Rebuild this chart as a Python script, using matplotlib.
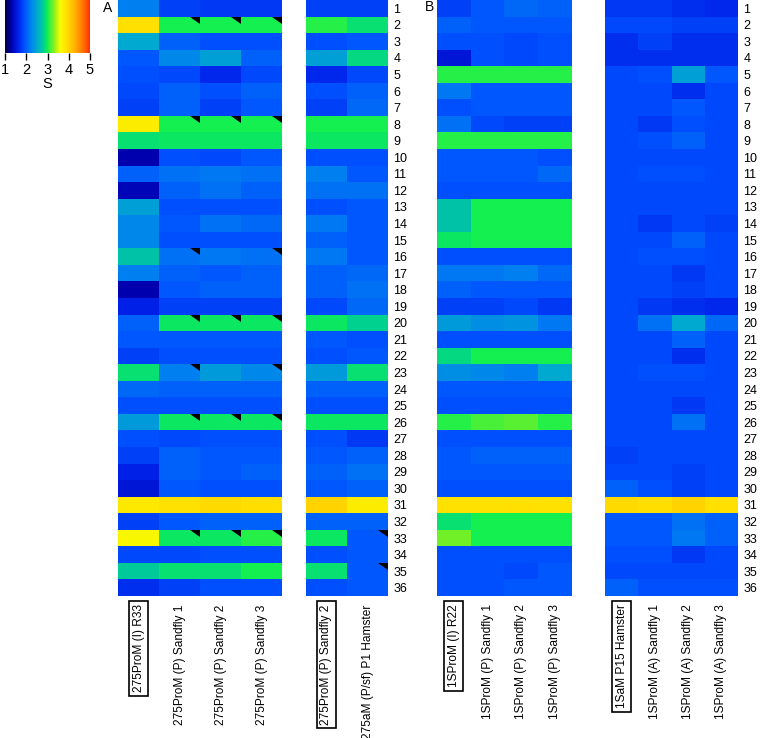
import numpy as np
import matplotlib
matplotlib.use("Agg")
import matplotlib.pyplot as plt
from matplotlib.colors import LinearSegmentedColormap
from matplotlib.patches import Polygon
from matplotlib.cm import ScalarMappable
from matplotlib.colors import Normalize

plt.rcParams['font.family'] = ['Liberation Sans', 'DejaVu Sans']

rows = [str(i) for i in range(1, 37)]

# Panel A, left block
a_labels_1 = ["275ProM (I) R33", "275ProM (P) Sandfly 1",
              "275ProM (P) Sandfly 2", "275ProM (P) Sandfly 3"]
a_r33 = [2.2, 3.9, 2.5, 1.95, 1.9, 1.85, 1.8, 3.75, 2.9, 1.3, 2.0, 1.35,
         2.45, 2.25, 2.25, 2.7, 2.2, 1.3, 1.6, 2.0, 1.95, 1.8, 2.9, 2.05,
         1.9, 2.4, 1.9, 1.8, 1.6, 1.5, 3.8, 1.8, 3.65, 1.85, 2.75, 1.7]
a_sf1 = [1.8, 3.0, 2.0, 2.25, 1.85, 2.0, 2.0, 3.0, 2.95, 1.9, 2.1, 2.0,
         1.9, 1.95, 1.9, 2.1, 2.0, 1.95, 1.8, 2.95, 1.95, 1.9, 2.2, 2.0,
         1.9, 2.95, 1.85, 2.0, 2.0, 1.95, 3.88, 1.95, 2.95, 1.85, 2.9, 1.8]
a_sf2 = [1.75, 3.0, 1.9, 2.45, 1.65, 1.9, 1.8, 3.0, 2.95, 1.85, 2.15, 2.1,
         1.9, 2.1, 1.9, 2.15, 1.95, 2.0, 1.8, 2.95, 1.95, 1.9, 2.4, 2.0,
         1.9, 2.95, 1.9, 1.95, 1.95, 1.9, 3.95, 2.0, 2.95, 1.9, 2.9, 1.9]
a_sf3 = [1.75, 3.0, 1.9, 2.0, 1.85, 2.0, 1.95, 3.0, 2.95, 1.95, 2.1, 2.0,
         1.9, 2.05, 1.9, 2.1, 2.0, 2.0, 1.8, 2.95, 1.95, 1.9, 2.25, 2.0,
         1.9, 2.95, 1.9, 1.95, 2.0, 1.9, 3.92, 2.0, 3.05, 1.9, 3.0, 1.9]

# Panel A, right block
a_labels_2 = ["275ProM (P) Sandfly 2", "275aM (P/sf) P1 Hamster"]
a2_sf2 = [1.8, 3.05, 1.9, 2.45, 1.65, 1.9, 1.8, 3.0, 2.95, 1.9, 2.2, 2.1,
          1.9, 2.15, 2.0, 2.15, 2.0, 2.0, 1.85, 2.95, 1.95, 1.9, 2.4, 2.0,
          1.9, 2.95, 1.9, 1.95, 2.0, 1.95, 4.0, 2.0, 2.95, 1.9, 2.9, 1.9]
a2_ham = [1.8, 2.9, 1.95, 2.85, 1.85, 2.0, 2.05, 3.0, 2.95, 1.9, 1.95, 2.1,
          1.95, 1.95, 1.95, 1.95, 2.05, 2.1, 2.05, 2.8, 1.9, 1.95, 2.9, 2.0,
          1.9, 2.95, 1.75, 2.0, 2.1, 2.0, 3.75, 2.0, 1.95, 1.95, 1.95, 1.95]

# Panel B, left block
b_labels_1 = ["1SProM (I) R22", "1SProM (P) Sandfly 1",
              "1SProM (P) Sandfly 2", "1SProM (P) Sandfly 3"]
b_r22 = [1.8, 2.0, 1.9, 1.5, 3.05, 2.15, 1.9, 2.1, 3.05, 1.95, 1.95, 1.9,
         2.7, 2.7, 2.95, 1.9, 2.15, 2.0, 1.8, 2.4, 1.9, 2.85, 2.3, 1.95,
         1.9, 3.05, 1.9, 1.95, 1.95, 1.9, 3.88, 2.9, 3.25, 1.9, 1.9, 1.9]
b_sf1 = [1.95, 1.95, 1.9, 1.9, 3.05, 1.95, 1.95, 1.85, 3.05, 1.95, 1.95, 1.9,
         3.0, 3.0, 3.0, 1.9, 2.15, 1.95, 1.8, 2.3, 1.9, 3.0, 2.25, 1.95,
         1.9, 3.15, 1.9, 2.0, 1.95, 1.9, 3.88, 3.0, 3.0, 1.9, 1.9, 1.9]
b_sf2 = [2.05, 1.95, 1.85, 1.85, 3.05, 1.95, 1.95, 1.8, 3.05, 1.95, 1.95, 1.9,
         3.0, 3.0, 3.0, 1.9, 2.2, 1.95, 1.85, 2.35, 1.9, 3.0, 2.2, 1.95,
         1.9, 3.2, 1.9, 2.0, 1.95, 1.9, 3.9, 3.0, 3.0, 1.9, 1.85, 1.95]
b_sf3 = [2.0, 1.95, 1.9, 1.9, 3.05, 1.95, 1.95, 1.8, 3.05, 1.9, 2.05, 1.9,
         3.0, 3.0, 3.0, 1.9, 2.05, 1.95, 1.75, 2.15, 1.9, 3.0, 2.5, 1.95,
         1.9, 3.05, 1.9, 2.0, 1.95, 1.9, 3.88, 3.0, 3.0, 1.9, 1.95, 1.95]

# Panel B, right block
b_labels_2 = ["1SaM P15 Hamster", "1SProM (A) Sandfly 1",
              "1SProM (A) Sandfly 2", "1SProM (A) Sandfly 3"]
b_ham = [1.75, 1.85, 1.7, 1.7, 1.85, 1.85, 1.85, 1.85, 1.85, 1.85, 1.85, 1.85,
         1.85, 1.85, 1.85, 1.85, 1.85, 1.85, 1.85, 1.85, 1.85, 1.85, 1.85, 1.85,
         1.85, 1.85, 1.85, 1.8, 1.85, 2.0, 3.95, 1.95, 1.95, 1.9, 1.85, 2.0]
b_a1 = [1.75, 1.85, 1.8, 1.7, 1.9, 1.85, 1.85, 1.75, 1.9, 1.85, 1.9, 1.85,
        1.85, 1.75, 1.85, 1.9, 1.85, 1.85, 1.75, 2.1, 1.85, 1.85, 1.9, 1.85,
        1.85, 1.85, 1.85, 1.85, 1.85, 1.9, 3.92, 1.95, 1.95, 1.9, 1.85, 1.9]
b_a2 = [1.7, 1.8, 1.7, 1.7, 2.45, 1.7, 1.95, 1.9, 2.0, 1.85, 1.9, 1.85,
        1.85, 1.85, 2.0, 1.9, 1.75, 1.8, 1.7, 2.5, 2.0, 1.7, 1.9, 1.85,
        1.75, 2.1, 1.85, 1.85, 1.8, 1.8, 4.0, 2.1, 2.15, 1.75, 1.85, 1.9]
b_a3 = [1.65, 1.8, 1.7, 1.7, 1.95, 1.85, 1.85, 1.85, 1.85, 1.85, 1.85, 1.85,
        1.85, 1.8, 1.85, 1.85, 1.85, 1.85, 1.65, 2.05, 1.85, 1.85, 1.85, 1.85,
        1.85, 1.85, 1.85, 1.85, 1.85, 1.85, 3.9, 2.0, 2.0, 1.85, 1.85, 1.9]

# marked cells (black corner triangles), row numbers per column
a_marks_sf1 = [2, 8, 16, 20, 23, 26, 33]
a_marks_sf2 = [2, 8, 20, 26, 33]
a_marks_sf3 = [2, 8, 16, 20, 23, 26, 33]
a2_marks_ham = [33, 35]

# colour scale
s_nodes = [1.0, 1.3, 1.6, 1.9, 2.2, 2.5, 2.8, 3.0, 3.3, 3.6, 3.9, 4.3, 4.7, 5.0]
s_colors = ['#00003c', '#0000b0', '#0020e8', '#0050ff', '#0080f0', '#00a8d0',
            '#00d090', '#10f050', '#80f020', '#f8fc00', '#ffe000', '#ffb000',
            '#ff7000', '#ff3000']
cmap = LinearSegmentedColormap.from_list(
    'S', [((s - 1) / 4, c) for s, c in zip(s_nodes, s_colors)])
norm = Normalize(vmin=1, vmax=5)

W, H = 760, 738
fig = plt.figure(figsize=(W / 100, H / 100), dpi=100)


def px_axes(x0, y0, x1, y1):
    return fig.add_axes([x0 / W, 1 - y1 / H, (x1 - x0) / W, (y1 - y0) / H])


def heat(ax, cols, labels, boxed=(0,), marks=None, row_labels=False):
    data = np.column_stack(cols)
    ax.pcolormesh(data, cmap=cmap, norm=norm)
    ax.set_xlim(0, len(cols))
    ax.set_ylim(36, 0)
    for s in ax.spines.values():
        s.set_visible(False)
    ax.set_xticks(np.arange(len(cols)) + 0.5)
    ax.set_xticklabels(labels, rotation=90, va='top', ha='center', fontsize=8.6)
    ax.tick_params(axis='x', length=0, pad=6)
    for i, t in enumerate(ax.get_xticklabels()):
        if i in boxed:
            t.set_bbox(dict(boxstyle='square,pad=0.3', fc='none', ec='black', lw=1.2))
    if row_labels:
        ax.yaxis.tick_right()
        ax.set_yticks(np.arange(36) + 0.5)
        ax.set_yticklabels(rows, fontsize=9)
        ax.tick_params(axis='y', length=0, pad=4)
    else:
        ax.set_yticks([])
    if marks:
        for c, rlist in marks.items():
            for r in rlist:
                r0 = r - 1
                ax.add_patch(Polygon([(c + 0.75, r0), (c + 1, r0), (c + 1, r0 + 0.42)],
                                     closed=True, color='black', lw=0))


ax1 = px_axes(118, 0, 282, 596)
heat(ax1, [a_r33, a_sf1, a_sf2, a_sf3], a_labels_1,
     marks={1: a_marks_sf1, 2: a_marks_sf2, 3: a_marks_sf3})

ax2 = px_axes(306, 0, 388, 596)
heat(ax2, [a2_sf2, a2_ham], a_labels_2, marks={1: a2_marks_ham}, row_labels=True)

ax3 = px_axes(437, 0, 572, 596)
heat(ax3, [b_r22, b_sf1, b_sf2, b_sf3], b_labels_1)

ax4 = px_axes(605, 0, 738, 596)
heat(ax4, [b_ham, b_a1, b_a2, b_a3], b_labels_2, row_labels=True)

# colour bar
cax = px_axes(5, 0, 90, 53)
cb = fig.colorbar(ScalarMappable(norm=norm, cmap=cmap), cax=cax,
                  orientation='horizontal', ticks=[1, 2, 3, 4, 5])
cb.outline.set_visible(False)
cax.tick_params(labelsize=10.5, length=5, width=1, pad=2)
cb.set_label('S', fontsize=10.5, labelpad=0)

fig.text(108 / W, 1 - 8 / H, 'A', fontsize=10, ha='center', va='center')
fig.text(430 / W, 1 - 7 / H, 'B', fontsize=10, ha='center', va='center')

fig.savefig('out.png', dpi=100)
